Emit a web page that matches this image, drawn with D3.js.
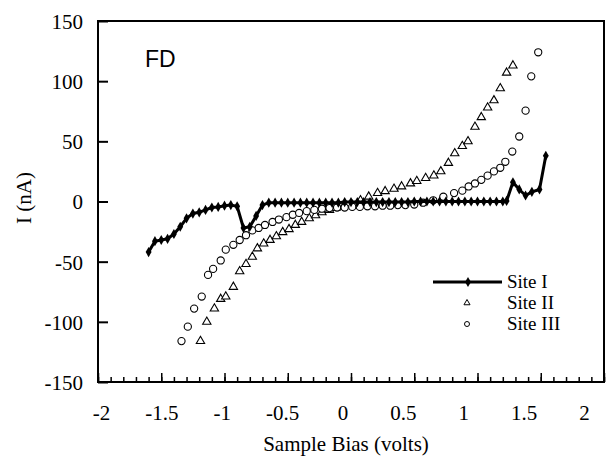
<!DOCTYPE html>
<html><head><meta charset="utf-8">
<script src="https://cdn.jsdelivr.net/npm/d3@7"></script>
<style>body{margin:0;background:#fff}svg{display:block}</style>
</head><body>
<script>
// ---- data ----
const site1V = [-1.60,-1.55,-1.50,-1.45,-1.40,-1.35,-1.30,-1.25,-1.20,-1.15,-1.10,-1.05,-1.00,-0.95,-0.90,-0.85,-0.80,-0.75,-0.70,-0.65,
  -0.60,-0.55,-0.50,-0.45,-0.40,-0.35,-0.30,-0.25,-0.20,-0.15,-0.10,-0.05,0.00,0.05,0.10,0.15,0.20,0.25,0.30,0.35,0.40,0.45,
  0.50,0.55,0.60,0.65,0.70,0.75,0.80,0.85,0.90,0.95,1.00,1.05,1.10,1.15,1.20,1.23,1.28,1.33,1.38,1.43,1.49,1.54];
const site1I = [-42,-33,-32,-31,-27,-21,-14,-10,-9,-7,-5,-4.5,-3.5,-3,-4,-22,-21,-12,-3,-1,
  -1,-1,-1,-1,-1,-1,-1,-1,-1,-1,-1,-0.5,-0.5,-0.5,-0.5,-0.5,-0.5,-0.5,-0.5,-0.5,-0.5,-0.5,
  0,0,0,0,0,0,0,0,0,0,0,0,0,0,0,0.5,16,10,5,8,10,38];

const site2V = [-1.19,-1.14,-1.08,-1.03,-0.99,-0.93,-0.88,-0.83,-0.78,-0.74,-0.69,-0.64,-0.59,-0.54,-0.49,-0.44,-0.39,-0.33,-0.28,-0.23,
  -0.17,-0.12,-0.06,0.01,0.075,0.14,0.21,0.27,0.34,0.40,0.47,0.52,0.59,0.655,0.71,0.77,0.82,0.88,0.925,0.98,1.03,1.08,1.13,1.18,1.23,1.28];
const site2I = [-116,-100,-89,-81,-79,-71,-58,-52,-46,-39,-35,-32,-29,-25.5,-23,-19.5,-17,-14,-11.5,-9,
  -7,-5.5,-4.5,-3,1,4,7,8.5,10.5,12.5,15,17,19.5,21.5,25,32,40,46,50,62,70,78,84,94,107,113];

const site3V = [-1.34,-1.29,-1.24,-1.18,-1.13,-1.09,-1.03,-0.99,-0.93,-0.88,-0.83,-0.78,-0.73,-0.68,-0.62,-0.57,-0.51,-0.46,-0.41,-0.35,
  -0.29,-0.23,-0.17,-0.11,-0.05,0.01,0.07,0.13,0.19,0.25,0.31,0.37,0.43,0.50,0.57,0.65,0.73,0.815,0.88,0.93,0.98,1.03,1.08,1.13,1.18,1.22,
  1.275,1.33,1.38,1.425,1.48];
const site3I = [-116,-104,-89,-79,-61,-56,-49,-40,-36,-32,-28,-24,-22,-19.5,-17,-15,-13,-11,-9.5,-8,
  -7,-6,-5.5,-5,-5,-4.5,-4.5,-4,-4,-3.5,-3.5,-3,-3,-2.5,-1,1,4,7,9,12.5,15,18,21.5,25,28,33,
  41.5,54,75.5,104,124];

const xTicks = [-2,-1.5,-1,-0.5,0,0.5,1,1.5,2];
const yTicks = [-150,-100,-50,0,50,100,150];
const seriesNames = ["Site I","Site II","Site III"];
const panelLabel = "FD";
const xTitle = "Sample Bias (volts)";
const yTitle = "I (nA)";

// ---- chart ----
const W = 614, H = 461;
const svg = d3.select("body").append("svg").attr("width", W).attr("height", H);
const x = d3.scaleLinear().domain([-2, 2]).range([98, 604]);
const xLab = d3.scaleLinear().domain([-2, 2]).range([101, 584]); // label placement as in the scan
const y = d3.scaleLinear().domain([-150, 150]).range([382, 21]);
const serif = "'Liberation Serif','Times New Roman',serif";
const fmt = d => String(d);

// frame
svg.append("rect").attr("x", x(-2)).attr("y", y(150)).attr("width", x(2) - x(-2)).attr("height", y(-150) - y(150))
  .attr("fill", "none").attr("stroke", "#000").attr("stroke-width", 2);

// x axis: minor + major ticks inward
const minor = d3.range(-20, 21).map(d => d / 10);
const xAxis = svg.append("g").attr("transform", `translate(0,${y(-150)})`)
  .call(d3.axisBottom(x).tickValues(minor).tickSize(-5).tickFormat(""));
xAxis.select(".domain").remove();
xAxis.selectAll("line").attr("stroke-width", 1.5);
const xMaj = svg.append("g").attr("transform", `translate(0,${y(-150)})`)
  .call(d3.axisBottom(x).tickValues(xTicks).tickSize(-9).tickPadding(0).tickFormat(fmt));
xMaj.select(".domain").remove();
xMaj.selectAll("line").attr("stroke-width", 1.5);
xMaj.selectAll("text").attr("x", d => xLab(d) - x(d)).attr("y", 38).attr("dy", 0)
  .attr("font-family", serif).attr("font-size", 21).attr("fill", "#000");

// y axis
const yAx = svg.append("g").attr("transform", `translate(${x(-2)},0)`)
  .call(d3.axisLeft(y).tickValues(yTicks).tickSize(-10).tickFormat(fmt));
yAx.select(".domain").remove();
yAx.selectAll("line").attr("stroke-width", 2);
yAx.selectAll("text").attr("x", -15).attr("dy", "0.35em").attr("font-family", serif).attr("font-size", 21).attr("fill", "#000");

// titles
svg.append("text").attr("x", 346).attr("y", 451).attr("text-anchor", "middle")
  .attr("font-family", serif).attr("font-size", 21).text(xTitle);
svg.append("text").attr("transform", "translate(31,198) rotate(-90)").attr("text-anchor", "middle")
  .attr("font-family", serif).attr("font-size", 21).text(yTitle);
svg.append("text").attr("x", 145).attr("y", 67).attr("font-family", "'Liberation Sans',Arial,sans-serif")
  .attr("font-size", 23).text(panelLabel);

// Site II triangles
const s2 = site2V.map((v, i) => [v, site2I[i]]);
const tri = d3.symbol().type(d3.symbolTriangle).size(30);
svg.append("g").selectAll("path").data(s2).join("path")
  .attr("transform", d => `translate(${x(d[0])},${y(d[1])})`).attr("d", tri)
  .attr("fill", "#fff").attr("stroke", "#000").attr("stroke-width", 1.1);

// Site III circles
const s3 = site3V.map((v, i) => [v, site3I[i]]);
svg.append("g").selectAll("circle").data(s3).join("circle")
  .attr("cx", d => x(d[0])).attr("cy", d => y(d[1])).attr("r", 3.6)
  .attr("fill", "#fff").attr("stroke", "#000").attr("stroke-width", 1.1);

// Site I line + diamonds
const s1 = site1V.map((v, i) => [v, site1I[i]]);
svg.append("path").datum(s1).attr("d", d3.line().x(d => x(d[0])).y(d => y(d[1])))
  .attr("fill", "none").attr("stroke", "#000").attr("stroke-width", 3).attr("stroke-linejoin", "round");
const dia = d3.symbol().type(d3.symbolDiamond).size(30);
svg.append("g").selectAll("path").data(s1).join("path")
  .attr("transform", d => `translate(${x(d[0])},${y(d[1])})`).attr("d", dia).attr("fill", "#000");

// legend
const lg = svg.append("g");
const rowY = [282, 303, 324];
lg.append("line").attr("x1", 433).attr("x2", 502).attr("y1", rowY[0]).attr("y2", rowY[0]).attr("stroke", "#000").attr("stroke-width", 3);
lg.append("path").attr("transform", `translate(468,${rowY[0]})`).attr("d", dia).attr("fill", "#000");
lg.append("path").attr("transform", `translate(467,${rowY[1]})`).attr("d", d3.symbol().type(d3.symbolTriangle).size(16))
  .attr("fill", "#fff").attr("stroke", "#000").attr("stroke-width", 1);
lg.append("circle").attr("cx", 467).attr("cy", rowY[2]).attr("r", 2.5).attr("fill", "#fff").attr("stroke", "#000").attr("stroke-width", 1);
lg.selectAll("text").data(seriesNames).join("text")
  .attr("x", 507).attr("y", (d, i) => rowY[i] + 6)
  .attr("font-family", serif).attr("font-size", 19).text(d => d);
</script>
</body></html>
